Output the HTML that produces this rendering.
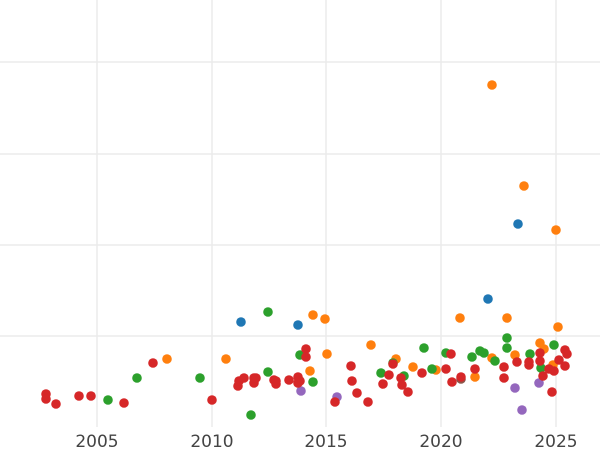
<!DOCTYPE html>
<html><head><meta charset="utf-8"><style>body{margin:0;background:#fff}svg{display:block}</style></head><body>
<svg width="600" height="450" xmlns="http://www.w3.org/2000/svg">
<g stroke="#ebebeb" stroke-width="1.5">
<line x1="0" y1="62" x2="600" y2="62"/><line x1="0" y1="154" x2="600" y2="154"/><line x1="0" y1="245" x2="600" y2="245"/><line x1="0" y1="336" x2="600" y2="336"/>
<line x1="97" y1="0" x2="97" y2="427"/><line x1="212" y1="0" x2="212" y2="427"/><line x1="326" y1="0" x2="326" y2="427"/><line x1="441" y1="0" x2="441" y2="427"/><line x1="556" y1="0" x2="556" y2="427"/>
</g>
<g font-family="DejaVu Sans, sans-serif" font-size="17" fill="#444" text-anchor="middle">
<text x="97" y="447">2005</text><text x="212" y="447">2010</text><text x="326" y="447">2015</text><text x="441" y="447">2020</text><text x="556" y="447">2025</text>
</g>
<g fill="#ff7f0e">
<circle cx="167" cy="359" r="4.8"/><circle cx="226" cy="359" r="4.8"/><circle cx="313" cy="315" r="4.8"/><circle cx="325" cy="319" r="4.8"/><circle cx="327" cy="354" r="4.8"/><circle cx="310" cy="371" r="4.8"/><circle cx="371" cy="345" r="4.8"/><circle cx="396" cy="359" r="4.8"/><circle cx="413" cy="367" r="4.8"/><circle cx="436" cy="370" r="4.8"/><circle cx="460" cy="318" r="4.8"/><circle cx="475" cy="377" r="4.8"/><circle cx="492" cy="85" r="4.8"/><circle cx="507" cy="318" r="4.8"/><circle cx="524" cy="186" r="4.8"/><circle cx="556" cy="230" r="4.8"/><circle cx="558" cy="327" r="4.8"/><circle cx="515" cy="355" r="4.8"/><circle cx="492" cy="358" r="4.8"/><circle cx="540" cy="343" r="4.8"/><circle cx="544" cy="349" r="4.8"/><circle cx="553" cy="365" r="4.8"/>
</g>
<g fill="#1f77b4">
<circle cx="241" cy="322" r="4.8"/><circle cx="298" cy="325" r="4.8"/><circle cx="488" cy="299" r="4.8"/><circle cx="518" cy="224" r="4.8"/>
</g>
<g fill="#2ca02c">
<circle cx="108" cy="400" r="4.8"/><circle cx="137" cy="378" r="4.8"/><circle cx="200" cy="378" r="4.8"/><circle cx="251" cy="415" r="4.8"/><circle cx="268" cy="312" r="4.8"/><circle cx="268" cy="372" r="4.8"/><circle cx="300" cy="355" r="4.8"/><circle cx="313" cy="382" r="4.8"/><circle cx="381" cy="373" r="4.8"/><circle cx="393" cy="363" r="4.8"/><circle cx="404" cy="376" r="4.8"/><circle cx="424" cy="348" r="4.8"/><circle cx="432" cy="369" r="4.8"/><circle cx="446" cy="353" r="4.8"/><circle cx="472" cy="357" r="4.8"/><circle cx="480" cy="351" r="4.8"/><circle cx="484" cy="353" r="4.8"/><circle cx="495" cy="361" r="4.8"/><circle cx="507" cy="338" r="4.8"/><circle cx="507" cy="348" r="4.8"/><circle cx="530" cy="354" r="4.8"/><circle cx="541" cy="368" r="4.8"/><circle cx="554" cy="345" r="4.8"/>
</g>
<g fill="#9467bd">
<circle cx="301" cy="391" r="4.8"/><circle cx="337" cy="397" r="4.8"/><circle cx="515" cy="388" r="4.8"/><circle cx="522" cy="410" r="4.8"/><circle cx="539" cy="383" r="4.8"/>
</g>
<g fill="#8c564b"><circle cx="461" cy="379" r="4.8"/></g>
<g fill="#d62728">
<circle cx="46" cy="394" r="4.8"/><circle cx="46" cy="399" r="4.8"/><circle cx="56" cy="404" r="4.8"/><circle cx="79" cy="396" r="4.8"/><circle cx="91" cy="396" r="4.8"/><circle cx="124" cy="403" r="4.8"/><circle cx="153" cy="363" r="4.8"/><circle cx="212" cy="400" r="4.8"/><circle cx="238" cy="386" r="4.8"/><circle cx="239" cy="381" r="4.8"/><circle cx="244" cy="378" r="4.8"/><circle cx="254" cy="383" r="4.8"/><circle cx="254" cy="378" r="4.8"/><circle cx="256" cy="378" r="4.8"/><circle cx="274" cy="380" r="4.8"/><circle cx="276" cy="384" r="4.8"/><circle cx="276" cy="381" r="4.8"/><circle cx="289" cy="380" r="4.8"/><circle cx="298" cy="377" r="4.8"/><circle cx="300" cy="381" r="4.8"/><circle cx="306" cy="349" r="4.8"/><circle cx="306" cy="357" r="4.8"/><circle cx="298" cy="383" r="4.8"/><circle cx="335" cy="402" r="4.8"/><circle cx="351" cy="366" r="4.8"/><circle cx="352" cy="381" r="4.8"/><circle cx="357" cy="393" r="4.8"/><circle cx="368" cy="402" r="4.8"/><circle cx="383" cy="384" r="4.8"/><circle cx="389" cy="375" r="4.8"/><circle cx="393" cy="364" r="4.8"/><circle cx="401" cy="378" r="4.8"/><circle cx="402" cy="385" r="4.8"/><circle cx="408" cy="392" r="4.8"/><circle cx="422" cy="373" r="4.8"/><circle cx="446" cy="369" r="4.8"/><circle cx="451" cy="354" r="4.8"/><circle cx="452" cy="382" r="4.8"/><circle cx="461" cy="377" r="4.8"/><circle cx="475" cy="369" r="4.8"/><circle cx="504" cy="367" r="4.8"/><circle cx="504" cy="378" r="4.8"/><circle cx="517" cy="362" r="4.8"/><circle cx="529" cy="365" r="4.8"/><circle cx="529" cy="362" r="4.8"/><circle cx="540" cy="353" r="4.8"/><circle cx="540" cy="361" r="4.8"/><circle cx="543" cy="376" r="4.8"/><circle cx="549" cy="369" r="4.8"/><circle cx="552" cy="392" r="4.8"/><circle cx="554" cy="371" r="4.8"/><circle cx="559" cy="360" r="4.8"/><circle cx="565" cy="350" r="4.8"/><circle cx="567" cy="354" r="4.8"/><circle cx="565" cy="366" r="4.8"/>
</g>
</svg>
</body></html>
